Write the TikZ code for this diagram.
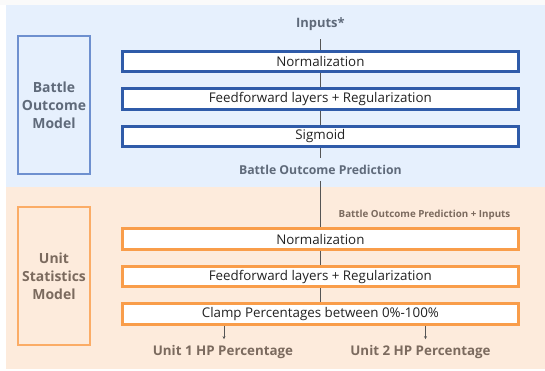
\documentclass[tikz,border=0pt]{standalone}
\usepackage{fontspec}
\setmainfont{Open Sans}
\usetikzlibrary{arrows.meta}
\definecolor{bluebg}{HTML}{E6F0FD}
\definecolor{orangebg}{HTML}{FDEBDC}
\definecolor{blueframe}{HTML}{6E90CF}
\definecolor{bluebox}{HTML}{2F5BA9}
\definecolor{orangeframe}{HTML}{FBAC66}
\definecolor{orangebox}{HTML}{F99D4A}
\definecolor{bluetext}{HTML}{5F6A7A}
\definecolor{browntext}{HTML}{7B6A5E}
\definecolor{boxtext}{HTML}{222222}
\definecolor{connline}{HTML}{555555}
\begin{document}
\begin{tikzpicture}[x=1bp,y=-1bp,
  stage/.style={draw=#1, line width=3bp, fill=white, minimum width=396.3bp,
    minimum height=20.5bp, inner sep=0pt, text=boxtext,
    font=\fontsize{13.4}{15}\selectfont},
  modelbox/.style={draw=#1, line width=2bp, minimum width=71.4bp,
    minimum height=138bp, inner sep=0pt, align=center,
    font=\fontsize{14}{18}\selectfont\bfseries},
  label/.style={inner xsep=2bp, inner ysep=#1, font=\fontsize{12.3}{14}\selectfont\bfseries},
  unitlabel/.style={inner xsep=2bp, inner ysep=6.5bp, text=browntext,
    font=\fontsize{13.4}{15}\selectfont\bfseries},
  conn/.style={draw=connline, line width=0.8bp},
  outarrow/.style={conn, -{Stealth[length=3bp,width=3bp]}}]
\useasboundingbox (0,0) rectangle (545,370);
\fill[white] (0,0) rectangle (545,370);
\fill[black!2] (0,0) rectangle (545,5);
\fill[bluebg] (6,5) rectangle (545,187);
\fill[orangebg] (6,187) rectangle (545,369);

% Battle outcome model
\node[modelbox=blueframe, text=bluetext] (bom) at (54,105) {Battle\\Outcome\\Model};
\node[label=8.5bp, text=bluetext, font=\fontsize{13}{15}\selectfont\bfseries] (inp) at (320.35,24) {Inputs*};
\node[stage=bluebox] (b1) at (320.35,61.5) {Normalization};
\node[stage=bluebox] (b2) at (320.35,99) {Feedforward layers + Regularization};
\node[stage=bluebox] (b3) at (320.35,136.5) {Sigmoid};
\node[label=6.5bp, text=bluetext] (bop) at (320.35,169.5) {Battle Outcome Prediction};

% Unit statistics model
\node[modelbox=orangeframe, text=browntext] (usm) at (54,276) {Unit\\Statistics\\Model};
\node[inner sep=1bp, text=browntext, font=\fontsize{9.8}{11}\selectfont\bfseries] (bopi) at (424.5,215) {Battle Outcome Prediction + Inputs};
\node[stage=orangebox] (o1) at (320.35,239) {Normalization};
\node[stage=orangebox] (o2) at (320.35,276.5) {Feedforward layers + Regularization};
\node[stage=orangebox] (o3) at (320.35,314) {Clamp Percentages between 0\%-100\%};
\node[unitlabel] (u1) at (223,352.5) {Unit 1 HP Percentage};
\node[unitlabel] (u2) at (420.5,352.5) {Unit 2 HP Percentage};

% connectors
\draw[conn] (inp) -- (b1);
\draw[conn] (b1) -- (b2);
\draw[conn] (b2) -- (b3);
\draw[conn] (b3) -- (bop);
\draw[conn] (bop) -- (o1);
\draw[conn] (o1) -- (o2);
\draw[conn] (o2) -- (o3);
\draw[outarrow] ([xshift=1bp]u1.north |- o3.south) -- ([xshift=1bp]u1.north);
\draw[outarrow] ([xshift=5bp]u2.north |- o3.south) -- ([xshift=5bp]u2.north);
\end{tikzpicture}
\end{document}
